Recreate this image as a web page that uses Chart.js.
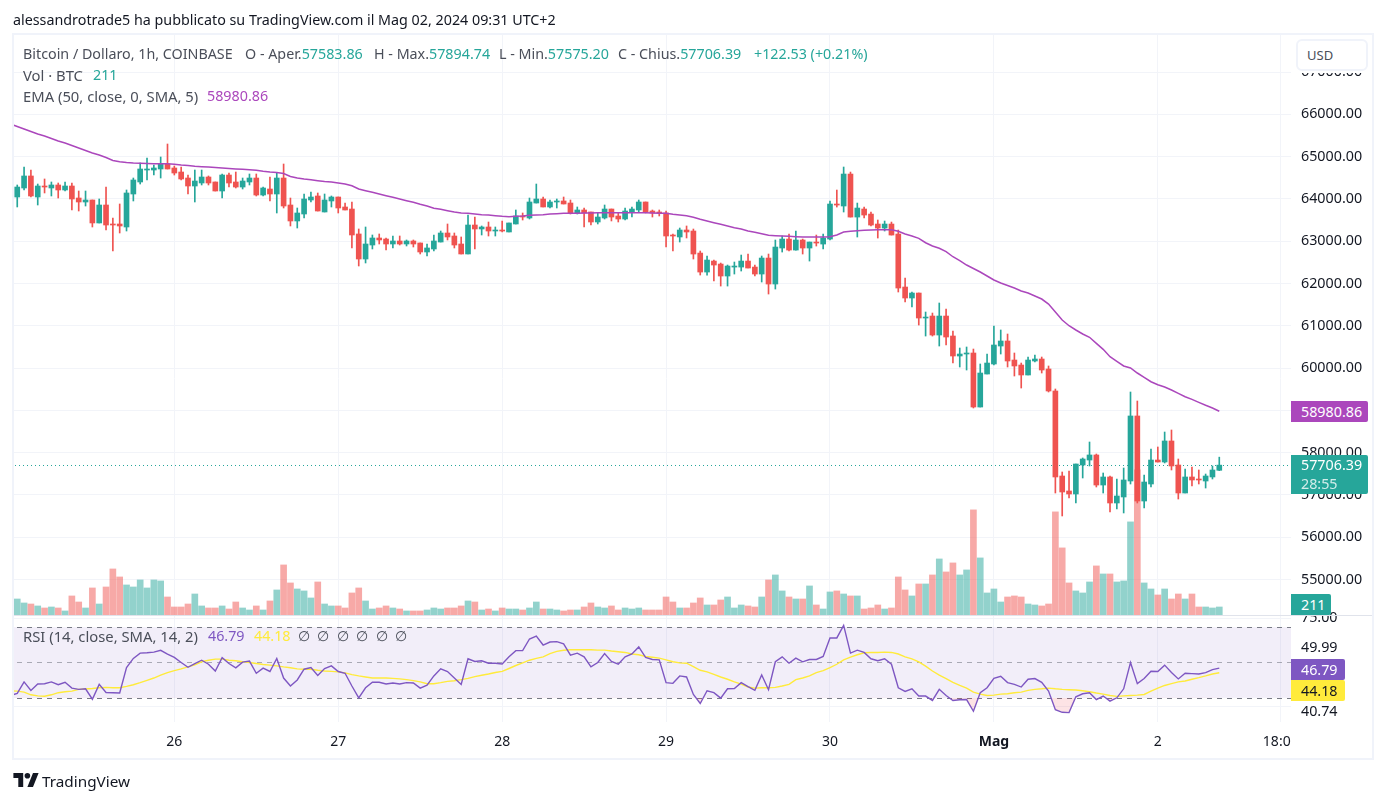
<!DOCTYPE html>
<html>
<head>
<meta charset="utf-8">
<title>BTCUSD</title>
<script src="https://cdn.jsdelivr.net/npm/chart.js@4/dist/chart.umd.min.js"></script>
<style>
  html, body { margin: 0; padding: 0; background: #fff; overflow: hidden; }
  body { width: 1386px; height: 802px; position: relative; font-family: "Noto Sans", sans-serif; font-size: 14.3px; color: #4a4e59; }
  canvas { position: absolute; left: 0; top: 0; }
  .abs { position: absolute; white-space: pre; line-height: 20px; }
  .wide { font-size: 14.8px; }
  .frame { position: absolute; left: 12px; top: 33px; width: 1358px; height: 723px; border: 2px solid #f0f3fa; }
  .sep { position: absolute; left: 14px; top: 615px; width: 1358px; height: 1px; background: #e0e3eb; }
  .tag { position: absolute; left: 1291px; color: #fff; text-align: left; padding-left: 10px; box-sizing: border-box; border-radius: 0 2px 2px 0; line-height: 21px; }
  .up { color: #26a69a; }
</style>
</head>
<body>
<canvas id="grafico" width="1386" height="802"></canvas>

<div style="position:absolute;left:0;top:30px;width:12px;height:730px;background:#fff"></div>
<div class="frame"></div>
<div class="sep"></div>

<div class="abs" style="left:13px;top:10px;color:#131722">alessandrotrade5 ha pubblicato su TradingView.com il Mag 02, 2024 09:31 UTC+2</div>
<div class="abs" style="left:23px;top:44px">Bitcoin / Dollaro, 1h, COINBASE</div>
<div class="abs" style="left:245px;top:44px">O - Aper.<span class="up">57583.86</span></div>
<div class="abs" style="left:374px;top:44px">H - Max.<span class="up">57894.74</span></div>
<div class="abs" style="left:499px;top:44px">L - Min.<span class="up">57575.20</span></div>
<div class="abs" style="left:618px;top:44px">C - Chius.<span class="up">57706.39</span></div>
<div class="abs up" style="left:754px;top:44px">+122.53 (+0.21%)</div>
<div class="abs wide" style="left:23px;top:65px">Vol · BTC</div>
<div class="abs up" style="left:93px;top:65px">211</div>
<div class="abs wide" style="left:23px;top:86px">EMA (50, close, 0, SMA, 5)</div>
<div class="abs" style="left:207px;top:86px;color:#ab47bc">58980.86</div>
<div class="abs wide" style="left:23px;top:626px">RSI (14, close, SMA, 14, 2)</div>
<div class="abs" style="left:208px;top:626px;color:#7e57c2">46.79</div>
<div class="abs" style="left:254px;top:626px;color:#ffeb3b">44.18</div>
<div class="abs" style="left:298px;top:626px">∅  ∅  ∅  ∅  ∅  ∅</div>

<div class="abs" style="left:1296px;top:37px;width:72px;height:36px;background:#fff"></div>
<div class="abs" style="left:1296px;top:39px;width:72px;height:32px;box-sizing:border-box;border:2px solid #f0f3fa;border-radius:6px;background:#fff;padding:4px 0 0 9px;color:#4a4e59;font-size:13px">USD</div>

<div class="tag" style="top:401px;width:77px;height:21px;background:#ab47bc">58980.86</div>
<div class="tag" style="top:455px;width:77px;height:39px;background:#26a69a;line-height:19px">57706.39<br><span style="opacity:.8">28:55</span></div>
<div class="tag" style="top:594px;width:40px;height:21px;background:#26a69a">211</div>
<div class="tag" style="top:659px;width:54px;height:21px;background:#7e57c2">46.79</div>
<div class="tag" style="top:680px;width:54px;height:21px;background:#ffeb3b;color:#131722">44.18</div>

<div style="position:absolute;left:1291px;top:724px;width:80px;height:32px;background:#fff"></div>

<svg style="position:absolute;left:13px;top:773px" width="26" height="14" viewBox="0 0 36 20">
  <path d="M14 20H7V7H0V0h14z M28 20h-8L28 0h8z" fill="#131722"/>
  <circle cx="20" cy="4" r="4" fill="#131722"/>
</svg>
<div class="abs" style="left:42px;top:771px;color:#131722;font-size:15.3px">TradingView</div>

<script>
var opens = [64045,64258,64542,64045,64305,64258,64329,64211,64305,64021,
  63927,63974,63431,63856,63407,63407,63336,64116,64400,64683,
  64683,64707,64825,64731,64636,64494,64305,64376,64518,64400,
  64187,64565,64400,64281,64400,64494,64092,64234,64116,64494,
  63856,63478,63643,63974,64069,63691,63951,64045,63809,63761,
  63171,62579,62910,63076,63052,62934,63005,62934,63005,62958,
  62745,62816,62981,63194,63123,62934,62698,63383,63289,63336,
  63241,63265,63218,63407,63596,63549,63903,63998,63809,63927,
  63951,63903,63667,63738,63691,63454,63549,63761,63596,63525,
  63691,63738,63927,63714,63691,63667,63147,63100,63265,63241,
  62720,62271,62531,62460,62177,62389,62389,62531,62389,62224,
  62602,61988,62839,63051,62791,63028,62839,62980,62933,63051,
  63879,63832,64588,63571,63761,63642,63406,63311,63406,63170,
  61917,61657,61775,61184,61231,60782,61231,60759,60286,60333,
  60357,59080,59860,60097,60522,60641,60191,60073,59837,60168,
  60215,59979,59459,57449,57095,57024,57709,57827,57946,57236,
  57426,56811,56953,57331,58868,56858,57260,57827,57780,58277,
  57709,57047,57426,57378,57331,57426,57583.86];

var highs = [64329,64754,64683,64352,64471,64400,64376,64400,64376,64187,
  64187,63974,63998,64281,63549,63880,64211,64494,64849,64967,
  64802,64991,65298,64778,64754,64565,64683,64683,64542,64400,
  64589,64612,64636,64494,64589,64589,64281,64518,64612,64825,
  64021,63785,64116,64163,64140,64116,64069,64045,63903,63927,
  63289,63336,63147,63171,63076,63123,63123,63029,63029,62958,
  62934,63147,63241,63407,63194,63100,63620,63572,63360,63454,
  63336,63478,63431,63738,63667,64021,64352,64045,63974,63998,
  64045,63974,63809,63785,63691,63667,63856,63761,63667,63785,
  63809,63974,63927,63738,63738,63714,63171,63312,63360,63288,
  62768,62650,62555,62484,62437,62508,62673,62697,62437,62650,
  62697,63028,63122,63170,63241,63051,62980,63146,63170,63950,
  64210,64754,64635,63902,63808,63690,63501,63477,63453,63264,
  62129,61799,61775,61326,61302,61539,61397,60877,60475,60499,
  60451,60097,60333,60995,60901,60806,60357,60120,60262,60310,
  60262,60050,59506,57544,57567,57733,57875,58253,57969,57520,
  57449,57378,57638,59435,59222,57473,58087,58135,58489,58537,
  57851,57615,57662,57591,57496,57686,57894.74];

var lows = [63809,64211,64045,63856,64140,64069,64021,64187,63738,63714,
  63832,63336,63431,63265,62769,63194,63241,63951,64352,64447,
  64565,64494,64707,64565,64447,64116,63927,64329,64329,64187,
  64021,64281,64258,64234,64329,64069,64069,63951,63667,63785,
  63360,63312,63549,63927,63714,63691,63809,63667,63738,62840,
  62414,62485,62816,62934,62792,62840,62910,62887,62863,62698,
  62650,62769,62981,63029,62840,62698,62698,62816,63147,63123,
  63123,63218,63218,63407,63501,63525,63903,63809,63785,63785,
  63880,63643,63643,63336,63383,63407,63525,63478,63454,63501,
  63572,63691,63667,63572,63596,62863,62769,62981,63076,62579,
  62200,62200,62059,61940,61940,62224,62295,62366,62177,62035,
  61751,61869,62744,62768,62791,62697,62531,62886,62815,63028,
  63808,63690,63571,63099,63548,63359,63075,63241,63146,61799,
  61562,61444,61018,60758,60758,60522,60546,60120,60026,59955,
  59057,59080,59860,60073,60333,60026,59813,59529,59837,60144,
  59884,59435,57047,56504,56929,56811,57402,57686,57189,57047,
  56598,56669,56575,57260,56811,56693,57189,57780,57757,57591,
  56905,57047,57213,57260,57165,57378,57575.20];

var closes = [64281,64542,64069,64305,64281,64329,64211,64305,63998,63927,
  63974,63431,63856,63383,63383,63360,64140,64447,64707,64707,
  64731,64825,64707,64612,64471,64305,64423,64518,64376,64187,
  64565,64376,64281,64423,64494,64092,64258,64116,64494,63832,
  63478,63667,63998,64045,63714,63974,64045,63785,63738,63147,
  62579,62934,63076,63029,62934,63005,62934,63005,62934,62745,
  62840,63005,63194,63100,62910,62698,63383,63289,63336,63241,
  63265,63241,63431,63596,63572,63927,63998,63809,63927,63951,
  63880,63667,63738,63667,63454,63572,63761,63572,63525,63714,
  63761,63927,63691,63667,63667,63123,63123,63265,63218,62697,
  62271,62555,62437,62177,62413,62413,62531,62366,62224,62602,
  61988,62862,63051,62791,63028,62839,62980,62957,63075,63879,
  63855,64588,63571,63784,63619,63382,63311,63406,63146,61893,
  61657,61775,61184,61207,60782,61231,60735,60286,60333,60357,
  59080,59884,60120,60546,60641,60168,60050,59837,60191,60215,
  59955,59459,57426,57071,57024,57733,57851,57946,57236,57426,
  56811,56976,57355,58868,56858,57307,57827,57780,58277,57686,
  57047,57426,57355,57355,57449,57591,57706.39];

var volumes = [422,317,290,238,185,211,185,106,502,343,
  185,713,290,739,1214,1003,792,739,924,713,
  924,898,475,211,211,290,554,238,185,185,
  238,158,343,185,132,238,132,370,660,1320,
  845,686,634,449,871,290,238,238,185,581,
  713,370,158,185,238,185,158,106,106,106,
  132,185,158,185,185,238,370,343,132,158,
  106,185,158,158,132,185,343,158,158,132,
  106,132,132,211,317,211,185,238,132,185,
  158,185,132,132,132,475,343,185,185,317,
  449,264,264,396,475,185,264,238,211,475,
  924,1056,634,475,422,422,766,264,158,607,
  634,554,502,502,158,185,264,158,185,1003,
  660,502,818,818,1056,1478,1135,1373,1056,1188,
  2772,1505,581,686,343,475,502,475,290,264,
  238,290,2719,1769,845,634,581,871,1294,1082,
  1082,871,898,2455,3828,845,686,528,686,422,
  554,422,554,211,211,185,211];

// the three lines begin one hour before the first candle that is on screen
var ema = [65770,65711,65652,65593,65534,65487,65428,65369,65321,65262,65203,
  65144,65085,65038,64979,64908,64877,64860,64848,64841,64837,
  64834,64832,64830,64820,64801,64787,64773,64763,64754,64742,
  64730,64721,64709,64700,64690,64676,64654,64636,64624,64600,
  64529,64494,64470,64451,64432,64413,64399,64376,64352,64312,
  64234,64194,64156,64116,64076,64038,63997,63957,63919,63872,
  63832,63778,63754,63721,63690,63667,63659,63643,63626,63619,
  63603,63588,63579,63588,63596,63612,63619,63626,63643,63650,
  63659,63659,63659,63667,63667,63674,63674,63674,63674,63674,
  63674,63674,63674,63667,63659,63659,63636,63619,63603,63565,
  63518,63477,63437,63399,63359,63319,63288,63241,63210,63177,
  63139,63130,63123,63116,63106,63099,63099,63099,63099,63106,
  63146,63217,63234,63248,63258,63265,63272,63272,63272,63234,
  63170,63123,63068,62964,62886,62832,62752,62633,62539,62437,
  62354,62272,62177,62083,62012,61953,61893,61823,61775,61704,
  61633,61515,61326,61137,61002,60901,60806,60728,60586,60444,
  60269,60161,60050,60002,59884,59782,59678,59608,59553,59482,
  59404,59324,59262,59191,59121,59057,58980.86];

var rsi = [31.3,32.5,39.0,34.2,37.8,38.0,39.0,37.4,38.8,35.5,34.8,
  35.1,29.2,37.6,33.0,32.9,32.7,47.1,52.3,55.3,55.5,
  55.9,56.9,54.8,52.9,50.0,47.3,49.4,51.3,49.0,45.2,
  52.7,49.4,47.0,50.2,50.8,43.9,46.8,44.9,52.3,41.2,
  36.7,40.1,46.2,47.1,42.6,46.6,48.1,44.9,43.9,36.7,
  30.0,35.7,38.8,38.8,37.8,38.4,37.8,38.6,38.4,35.5,
  37.2,42.4,46.4,44.9,41.2,37.6,52.1,50.6,51.0,49.6,
  49.6,49.2,53.2,56.7,56.7,63.3,64.9,59.9,61.6,61.8,
  60.5,54.2,55.3,53.2,47.5,50.0,55.1,50.6,49.0,53.2,
  54.8,58.8,52.9,51.7,51.5,38.6,38.2,42.4,41.8,31.9,
  26.8,34.0,32.9,29.8,35.1,35.3,38.6,36.3,34.2,43.0,
  34.6,50.4,53.2,49.6,52.5,50.4,51.7,51.7,53.4,63.9,
  63.9,71.0,55.3,57.0,55.7,52.1,51.0,52.1,49.0,35.7,
  33.6,35.1,31.0,31.0,28.5,34.8,31.3,28.5,28.9,29.0,
  22.4,32.9,35.7,41.0,42.2,38.6,37.6,36.1,40.5,40.9,
  38.8,33.8,23.3,21.8,21.6,30.6,32.3,32.9,29.0,31.0,
  28.1,30.0,35.1,50.0,38.0,40.9,45.0,44.9,48.5,44.3,
  40.7,43.9,43.7,43.5,44.3,46.0,46.79];

var rsiMa = [33.9,33.8,33.2,31.7,31.1,30.9,31.7,32.9,33.4,33.8,34.8,
  35.0,35.3,35.7,35.9,35.7,35.7,36.5,37.4,38.6,39.9,
  41.2,42.8,44.3,45.4,46.4,47.5,48.7,50.4,51.3,51.9,
  51.9,51.3,51.0,50.4,50.0,49.4,48.9,48.5,48.1,47.5,
  47.0,46.4,46.2,46.2,45.6,45.2,45.0,44.7,44.1,43.1,
  42.4,41.8,41.2,41.2,41.2,41.0,40.7,40.3,39.7,39.0,
  38.0,38.0,38.6,39.3,39.7,40.3,41.0,42.0,42.8,43.5,
  44.3,45.0,46.6,48.3,49.8,51.3,52.3,53.2,55.0,56.3,
  56.9,57.2,57.2,57.2,57.2,57.0,57.0,56.5,56.1,55.7,
  54.8,54.4,53.4,53.0,52.5,51.5,50.4,49.8,49.6,47.7,
  45.6,44.7,43.3,41.8,40.5,39.0,37.8,36.1,35.5,35.7,
  35.7,35.9,36.7,37.6,40.3,41.2,42.4,44.3,45.4,47.1,
  49.0,51.5,53.0,54.4,55.5,55.7,55.7,55.9,55.7,54.8,
  53.2,52.1,50.4,47.9,45.2,42.8,40.9,38.8,37.0,35.5,
  33.2,32.1,31.3,31.5,32.1,32.3,32.9,33.2,34.2,34.8,
  35.1,35.5,35.1,34.8,34.6,34.4,34.0,33.4,32.7,32.1,
  31.3,30.8,31.1,31.3,31.5,31.9,33.8,35.5,37.0,38.0,
  39.0,39.5,40.5,41.4,42.4,43.5,44.18];

var priceTicks = [55000,56000,57000,58000,59000,60000,61000,62000,63000,64000,65000,66000,67000];
var rsiTickValues = [75,58,25,22];
var rsiTickLabels = ['75.00','49.99','','40.74'];
var rsiBands = [70,50,30];
var xTickIdx = [24,48,72,96,120,144,168,186];
var xTickLabels = ['26','27','28','29','30','Mag','2','18:00'];

var verde = '#26a69a', vermelho = '#ef5350', gridCor = '#f2f4f9';
var fonte = '"Noto Sans", sans-serif';

// one slot per hour, also for the hour before the first candle and the empty space after the last
var horas = [];
for (var i = 0; i < 188; i++) horas.push(String(i));

var cores = closes.map(function(c, i) { return c >= opens[i] ? verde : vermelho; });
var coresVol = closes.map(function(c, i) { return c >= opens[i] ? 'rgba(38,166,154,.5)' : 'rgba(239,83,80,.5)'; });
cores.unshift(verde);
coresVol.unshift(verde);

var rsiFundo = {
  id: 'rsiFundo',
  beforeDatasetsDraw: function(chart) {
    var ctx = chart.ctx, s = chart.scales.yRsi, a = chart.chartArea;
    ctx.save();
    ctx.fillStyle = 'rgba(126,87,194,.1)';
    ctx.fillRect(a.left, s.getPixelForValue(rsiBands[0]), a.right - a.left, s.getPixelForValue(rsiBands[2]) - s.getPixelForValue(rsiBands[0]));
    ctx.setLineDash([5, 5]);
    rsiBands.forEach(function(v, i) {
      var y = Math.round(s.getPixelForValue(v)) + .5;
      ctx.strokeStyle = i == 1 ? 'rgba(120,123,134,.6)' : '#787b86';
      ctx.beginPath(); ctx.moveTo(a.left, y); ctx.lineTo(a.right, y); ctx.stroke();
    });
    // dotted line of the last close
    var yp = Math.round(chart.scales.y.getPixelForValue(closes[closes.length - 1])) + .5;
    ctx.setLineDash([1, 3]);
    ctx.strokeStyle = verde;
    ctx.beginPath(); ctx.moveTo(a.left, yp); ctx.lineTo(a.right, yp); ctx.stroke();
    ctx.restore();
  }
};

new Chart(document.getElementById('grafico'), {
  type: 'bar',
  plugins: [rsiFundo],
  data: {
    labels: horas,
    datasets: [
      { label: 'Vol', data: [null].concat(volumes), yAxisID: 'yVol', backgroundColor: coresVol, barThickness: 6, grouped: false, order: 5 },
      { label: 'Wick', data: [null].concat(lows.map(function(l, i) { return [l, highs[i]]; })), yAxisID: 'y', backgroundColor: cores, barThickness: 1, grouped: false, order: 4 },
      { label: 'Body', data: [null].concat(opens.map(function(o, i) { return [o, closes[i]]; })), yAxisID: 'y', backgroundColor: cores, barThickness: 5, grouped: false, order: 3 },
      { label: 'EMA', type: 'line', data: ema, yAxisID: 'y', borderColor: '#ab47bc', borderWidth: 1.5, pointRadius: 0, tension: 0, order: 2 },
      { label: 'RSI MA', type: 'line', data: rsiMa, yAxisID: 'yRsi', borderColor: '#ffeb3b', borderWidth: 1.4, pointRadius: 0, tension: 0, order: 1 },
      { label: 'RSI', type: 'line', data: rsi, yAxisID: 'yRsi', borderColor: '#7e57c2', borderWidth: 1.4, pointRadius: 0, tension: 0, order: 0,
        fill: { target: { value: 30 }, above: 'rgba(0,0,0,0)', below: 'rgba(242,54,69,.14)' } }
    ]
  },
  options: {
    responsive: false,
    animation: false,
    layout: { padding: { left: 7, top: 35, right: 14, bottom: 45 } },
    plugins: { legend: { display: false }, tooltip: { enabled: false } },
    scales: {
      x: {
        offset: true,
        grid: { offset: false, color: gridCor, drawTicks: false },
        border: { display: false },
        afterBuildTicks: function(scale) {
          scale.ticks = scale.ticks.filter(function(t) { return xTickIdx.indexOf(t.value) >= 0; });
        },
        afterFit: function(scale) { scale.height = 35; },
        ticks: {
          autoSkip: false, maxRotation: 0, padding: 12, color: '#131722',
          font: function(c) { return { family: fonte, size: 14, weight: c.index == 5 ? 'bold' : 'normal' }; },
          callback: function(v) { return xTickLabels[xTickIdx.indexOf(v)]; }
        }
      },
      y: {
        position: 'right', stack: 'paineis', stackWeight: 580,
        min: 54163, max: 67875,
        grid: { color: gridCor, drawTicks: false },
        border: { display: false },
        afterBuildTicks: function(scale) { scale.ticks = priceTicks.map(function(v) { return { value: v }; }); },
        afterFit: function(scale) { scale.width = 81; },
        ticks: {
          autoSkip: false, crossAlign: 'near', padding: 10, color: '#131722', font: { family: fonte, size: 14.3 },
          callback: function(v) { return v.toFixed(2); }
        }
      },
      yRsi: {
        position: 'right', stack: 'paineis', stackWeight: 107,
        min: 16.3, max: 76.9,
        grid: { drawTicks: false, color: function(c) { return c.index == 0 || c.index == 2 ? gridCor : 'rgba(0,0,0,0)'; } },
        border: { display: false },
        afterBuildTicks: function(scale) { scale.ticks = rsiTickValues.map(function(v) { return { value: v }; }); },
        afterFit: function(scale) { scale.width = 81; },
        ticks: {
          autoSkip: false, crossAlign: 'near', padding: 10, color: '#131722', font: { family: fonte, size: 14.3 },
          callback: function(v) { return rsiTickLabels[rsiTickValues.indexOf(v)]; }
        }
      },
      yVol: { position: 'right', display: false, min: -2822, max: 15295 }
    }
  }
});
</script>
</body>
</html>
